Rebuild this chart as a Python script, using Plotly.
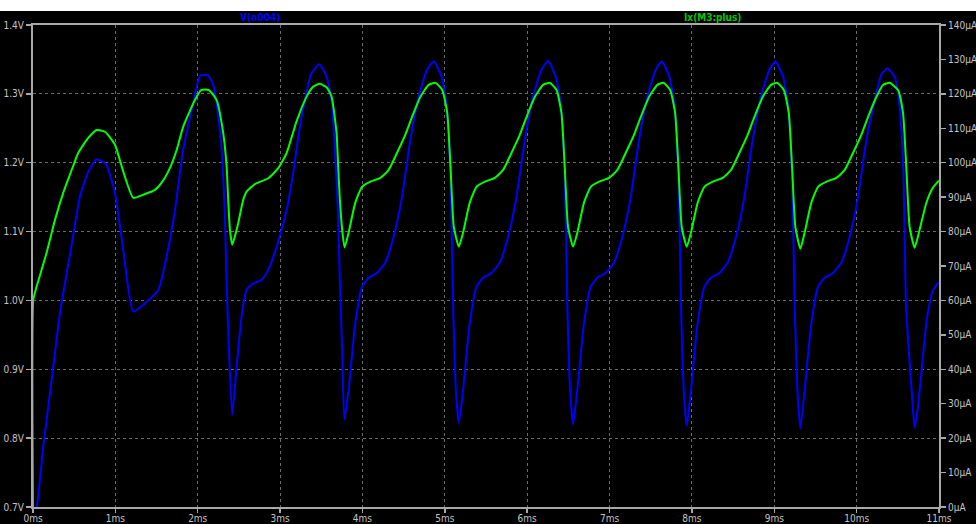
import plotly.graph_objects as go

# ---- V(n004) (left axis, volts) ----
t_v = [0.000, 0.045, 0.125, 0.227, 0.328, 0.470, 0.570, 0.671, 0.773, 0.886, 0.995, 1.096, 1.217,
       1.380, 1.521, 1.623, 1.723, 1.824, 1.945, 2.027, 2.124, 2.184, 2.249, 2.290, 2.330, 2.351,
       2.379, 2.419,
       2.472, 2.533, 2.593, 2.654, 2.775, 2.856, 2.958, 3.079, 3.159, 3.240, 3.382, 3.475, 3.564,
       3.625, 3.665, 3.705, 3.726, 3.754, 3.780,
       3.832, 3.913, 3.995, 4.075, 4.177, 4.278, 4.378, 4.480, 4.581, 4.682, 4.784, 4.867, 4.960,
       5.021, 5.069, 5.101, 5.134, 5.170,
       5.222, 5.303, 5.385, 5.465, 5.567, 5.668, 5.768, 5.870, 5.971, 6.072, 6.174, 6.254, 6.347,
       6.408, 6.456, 6.488, 6.521, 6.557,
       6.609, 6.690, 6.772, 6.852, 6.954, 7.055, 7.155, 7.257, 7.358, 7.459, 7.561, 7.634, 7.727,
       7.788, 7.836, 7.868, 7.901, 7.937,
       7.989, 8.070, 8.152, 8.232, 8.334, 8.435, 8.535, 8.637, 8.738, 8.839, 8.941, 9.014, 9.107,
       9.168, 9.216, 9.248, 9.281, 9.317,
       9.369, 9.450, 9.532, 9.612, 9.714, 9.815, 9.915, 10.017, 10.118, 10.219, 10.300, 10.373,
       10.461, 10.520, 10.568, 10.600, 10.668, 10.704,
       10.745, 10.805, 10.846, 10.886, 10.927, 10.987, 11.000]
v_n004 = [0.690, 0.701, 0.788, 0.885, 0.982, 1.081, 1.151, 1.187, 1.205, 1.198, 1.156, 1.073, 0.984,
          0.998, 1.015, 1.064, 1.131, 1.219, 1.286, 1.326, 1.327, 1.315, 1.267, 1.219, 1.122, 1.026,
          0.928, 0.834,
          0.904, 0.977, 1.015, 1.023, 1.030, 1.044, 1.078, 1.131, 1.185, 1.252, 1.330, 1.343, 1.325,
          1.291, 1.219, 1.122, 1.026, 0.928, 0.827,
          0.870, 0.967, 1.020, 1.033, 1.040, 1.055, 1.092, 1.150, 1.233, 1.296, 1.335, 1.347, 1.325,
          1.283, 1.185, 0.991, 0.870, 0.822,
          0.870, 0.967, 1.020, 1.033, 1.040, 1.055, 1.092, 1.150, 1.233, 1.296, 1.335, 1.348, 1.325,
          1.283, 1.185, 0.991, 0.870, 0.820,
          0.870, 0.967, 1.020, 1.033, 1.040, 1.055, 1.092, 1.150, 1.233, 1.296, 1.335, 1.347, 1.325,
          1.283, 1.185, 0.991, 0.870, 0.818,
          0.870, 0.967, 1.020, 1.033, 1.040, 1.055, 1.092, 1.150, 1.233, 1.296, 1.335, 1.347, 1.325,
          1.283, 1.185, 0.991, 0.870, 0.814,
          0.870, 0.967, 1.020, 1.033, 1.040, 1.055, 1.092, 1.150, 1.233, 1.290, 1.328, 1.337,
          1.325, 1.283, 1.185, 0.991, 0.870, 0.815,
          0.846, 0.919, 0.967, 0.996, 1.015, 1.025, 1.026]

# ---- Ix(M3:plus) (right axis, microamps) ----
t_i = [0.000, 0.004, 0.045, 0.166, 0.267, 0.368, 0.470, 0.550, 0.671, 0.773, 0.874, 0.995, 1.096,
       1.217, 1.339, 1.481, 1.562, 1.663, 1.744, 1.824, 1.966, 2.040, 2.135, 2.229, 2.309, 2.351,
       2.370, 2.391, 2.419,
       2.451, 2.492, 2.552, 2.593, 2.694, 2.856, 2.977, 3.079, 3.200, 3.322, 3.402, 3.483, 3.564,
       3.625, 3.686, 3.705, 3.726, 3.754, 3.783,
       3.832, 3.913, 3.995, 4.096, 4.217, 4.318, 4.420, 4.520, 4.602, 4.702, 4.803, 4.887, 4.969,
       5.029, 5.069, 5.109, 5.170,
       5.222, 5.303, 5.385, 5.486, 5.607, 5.708, 5.810, 5.910, 5.992, 6.092, 6.193, 6.274, 6.356,
       6.416, 6.456, 6.496, 6.557,
       6.609, 6.690, 6.772, 6.873, 6.994, 7.095, 7.197, 7.297, 7.379, 7.479, 7.580, 7.654, 7.736,
       7.796, 7.836, 7.876, 7.937,
       7.989, 8.070, 8.152, 8.253, 8.374, 8.475, 8.577, 8.677, 8.759, 8.859, 8.960, 9.034, 9.116,
       9.176, 9.216, 9.256, 9.317,
       9.369, 9.450, 9.532, 9.633, 9.754, 9.855, 9.957, 10.057, 10.139, 10.239, 10.320, 10.400,
       10.503, 10.563, 10.603, 10.643, 10.704,
       10.756, 10.846, 10.920, 10.987, 11.000]
ix_m3 = [0.0, 60.2, 64.1, 73.9, 83.4, 91.3, 97.9, 102.9, 107.2, 109.5, 109.0, 105.2, 97.4,
         89.8, 90.7, 92.1, 94.2, 98.5, 103.7, 110.5, 118.2, 121.1, 121.1, 118.2, 108.7, 98.9,
         89.2, 80.5, 76.2,
         78.6, 82.5, 89.2, 91.6, 93.8, 95.5, 98.4, 102.8, 112.0, 119.2, 122.1, 122.9, 121.9,
         119.2, 108.6, 98.9, 89.2, 80.5, 75.4,
         79.7, 88.4, 93.0, 94.5, 95.6, 97.9, 102.9, 108.1, 113.3, 119.1, 122.6, 123.2, 121.1,
         114.5, 98.8, 81.4, 75.6,
         79.7, 88.4, 93.0, 94.5, 95.6, 97.9, 102.9, 108.1, 113.3, 119.1, 122.6, 123.2, 121.1,
         114.5, 98.8, 81.4, 75.6,
         79.7, 88.4, 93.0, 94.5, 95.6, 97.9, 102.9, 108.1, 113.3, 119.1, 122.6, 123.2, 121.1,
         114.5, 98.8, 81.4, 75.6,
         79.7, 88.4, 93.0, 94.5, 95.6, 97.9, 102.9, 108.1, 113.3, 119.1, 122.6, 123.2, 121.1,
         114.5, 98.8, 81.4, 75.0,
         79.7, 88.4, 93.0, 94.5, 95.6, 97.9, 102.9, 108.1, 113.3, 119.1, 122.6, 123.2,
         121.1, 114.5, 98.8, 81.4, 75.3,
         79.7, 88.3, 92.5, 94.5, 94.8]

# ---- axis ticks ----
x_ticks = list(range(0, 12))
x_labels = [f"{v}ms" for v in x_ticks]
v_ticks = [0.7, 0.8, 0.9, 1.0, 1.1, 1.2, 1.3, 1.4]
v_labels = ["0.7V", "0.8V", "0.9V", "1.0V", "1.1V", "1.2V", "1.3V", "1.4V"]
i_ticks = list(range(0, 141, 10))
i_labels = [f"{v}µA" for v in i_ticks]

AXIS = "#a8a8a8"
GRID = "#6a6a6a"
TXT = "#c4c4c4"
FONT = "DejaVu Sans Condensed, Liberation Sans Narrow, Liberation Sans, sans-serif"

fig = go.Figure()
fig.add_trace(go.Scatter(x=t_v, y=v_n004, mode="lines", name="V(n004)",
                         line=dict(color="#0000ff", width=2, shape="spline", smoothing=0.5),
                         yaxis="y", cliponaxis=False))
fig.add_trace(go.Scatter(x=t_i, y=ix_m3, mode="lines", name="Ix(M3:plus)",
                         line=dict(color="#00ff00", width=2, shape="spline", smoothing=0.5),
                         yaxis="y2"))

fig.update_layout(
    width=976, height=524,
    margin=dict(l=33, r=37, t=25, b=17, pad=0),
    paper_bgcolor="#000000", plot_bgcolor="#000000",
    showlegend=False,
    font=dict(family=FONT, size=10, color=TXT),
    xaxis=dict(range=[0, 11], tickvals=x_ticks, ticktext=x_labels, automargin=False,
               showgrid=True, gridcolor=GRID, griddash="3px,3px", gridwidth=1,
               showline=True, linecolor=AXIS, linewidth=2, mirror=True, layer="below traces",
               ticks="outside", ticklen=4, tickwidth=1.5, tickcolor=AXIS, ticklabelstandoff=-3,
               zeroline=False, fixedrange=True, tickfont=dict(family=FONT, size=10, color=TXT)),
    yaxis=dict(range=[0.7, 1.4], tickvals=v_ticks, ticktext=v_labels, automargin=False,
               showgrid=True, gridcolor=GRID, griddash="3px,3px", gridwidth=1,
               showline=True, linecolor=AXIS, linewidth=2, layer="below traces",
               ticks="outside", ticklen=5, tickwidth=1.5, tickcolor=AXIS,
               zeroline=False, fixedrange=True, tickfont=dict(family=FONT, size=10, color=TXT)),
    yaxis2=dict(range=[0, 140], tickvals=i_ticks, ticktext=i_labels, overlaying="y", side="right",
                automargin=False, layer="below traces",
                showgrid=False, showline=True, linecolor=AXIS, linewidth=2,
                ticks="outside", ticklen=5, tickwidth=1.5, tickcolor=AXIS,
                zeroline=False, fixedrange=True, tickfont=dict(family=FONT, size=10, color=TXT)),
    shapes=[dict(type="rect", xref="paper", yref="paper", x0=-0.06, x1=1.06,
                 y0=1 + 14 / 482, y1=1.07, fillcolor="#ffffff", line=dict(width=0), layer="above")],
    annotations=[
        dict(text="<b>V(n004)</b>", xref="paper", yref="paper", x=(260 - 33) / 906, y=1 + 7.5 / 482,
             xanchor="center", yanchor="middle", showarrow=False,
             font=dict(family=FONT, size=10, color="#0000ff")),
        dict(text="<b>Ix(M3:plus)</b>", xref="paper", yref="paper", x=(712 - 33) / 906, y=1 + 7.5 / 482,
             xanchor="center", yanchor="middle", showarrow=False,
             font=dict(family=FONT, size=10, color="#00c800")),
    ],
)

fig.write_html("out.html",
               config={"displayModeBar": False, "staticPlot": True},
               post_script="document.body.style.margin='0';document.body.style.padding='0';"
                           "document.documentElement.style.overflow='hidden';")
